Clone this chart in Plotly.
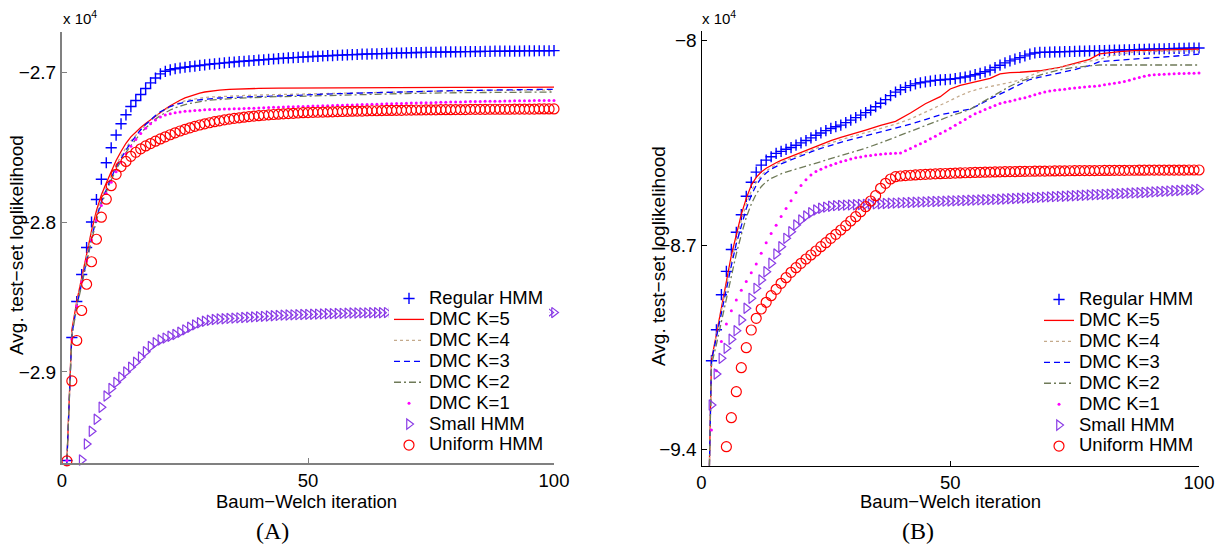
import plotly.graph_objects as go

# ---------------- data ----------------
ITER = list(range(1, 101))

# Panel A (values are log-likelihoods; axis shows them in units of 1e4)
REG_A = [-29590, -28770, -28530, -28350, -28170, -28000, -27850, -27715, -27605, -27505,
         -27420, -27345, -27285, -27230, -27190, -27150, -27110, -27072, -27040, -27012,
         -26995, -26985, -26978, -26973, -26968, -26964, -26960, -26956, -26952, -26948,
         -26945, -26942, -26939, -26936, -26933, -26930, -26928, -26925, -26923, -26920,
         -26918, -26915, -26913, -26910, -26908, -26906, -26904, -26902, -26900, -26898,
         -26896, -26895, -26893, -26891, -26890, -26888, -26887, -26885, -26884, -26883,
         -26881, -26880, -26879, -26878, -26877, -26876, -26875, -26874, -26873, -26872,
         -26871, -26870, -26870, -26869, -26868, -26868, -26867, -26866, -26866, -26865,
         -26865, -26864, -26864, -26863, -26863, -26862, -26862, -26861, -26861, -26861,
         -26860, -26860, -26860, -26859, -26859, -26859, -26858, -26858, -26858, -26857]

UNI_A = [-29593, -29060, -28790, -28590, -28415, -28265, -28115, -27968, -27848, -27758,
         -27682, -27630, -27596, -27562, -27535, -27512, -27493, -27477, -27461, -27446,
         -27432, -27418, -27405, -27393, -27382, -27372, -27362, -27353, -27345, -27338,
         -27331, -27325, -27319, -27314, -27309, -27305, -27301, -27297, -27294, -27291,
         -27288, -27285, -27283, -27281, -27279, -27277, -27275, -27273, -27271, -27270,
         -27269, -27268, -27267, -27266, -27265, -27264, -27263, -27262, -27261, -27260,
         -27260, -27259, -27258, -27258, -27257, -27256, -27256, -27255, -27255, -27254,
         -27254, -27253, -27253, -27252, -27252, -27252, -27251, -27251, -27251, -27250,
         -27250, -27250, -27249, -27249, -27249, -27249, -27248, -27248, -27248, -27248,
         -27248, -27247, -27247, -27247, -27247, -27247, -27246, -27246, -27246, -27246]

SMALL_A = [None, None, None, -29587, -29480, -29395, -29315, -29235, -29160, -29110,
           -29070, -29035, -29000, -28968, -28935, -28900, -28865, -28830, -28805, -28787,
           -28774, -28762, -28750, -28735, -28719, -28702, -28686, -28672, -28662, -28655,
           -28650, -28647, -28645, -28643, -28641, -28639, -28637, -28635, -28633, -28631,
           -28629, -28627, -28625, -28623, -28621, -28620, -28619, -28618, -28617, -28616,
           -28615, -28614, -28613, -28612, -28611, -28610, -28609, -28608, -28607, -28607,
           -28606, -28606, -28605, -28605, -28605, -28604, -28604, -28604, -28604, -28604,
           -28604, -28604, -28604, -28604, -28604, -28604, -28604, -28604, -28604, -28604,
           -28604, -28604, -28604, -28604, -28604, -28604, -28604, -28604, -28604, -28604,
           -28604, -28604, -28604, -28604, -28604, -28604, -28604, -28604, -28604, -28604]

K1_A = [-29590, -28780, -28560, -28400, -28260, -28120, -27990, -27890, -27810, -27735,
        -27665, -27600, -27545, -27495, -27450, -27410, -27375, -27345, -27320, -27300,
        -27287, -27278, -27271, -27266, -27262, -27259, -27256, -27254, -27252, -27250,
        -27249, -27248, -27247, -27246, -27245, -27244, -27243, -27242, -27241, -27240,
        -27238, -27237, -27235, -27234, -27233, -27232, -27231, -27230, -27229, -27228,
        -27227, -27226, -27225, -27224, -27223, -27222, -27221, -27220, -27219, -27218,
        -27217, -27216, -27215, -27214, -27213, -27212, -27211, -27210, -27209, -27208,
        -27207, -27206, -27205, -27204, -27204, -27203, -27202, -27201, -27200, -27200,
        -27199, -27198, -27197, -27197, -27196, -27195, -27195, -27194, -27194, -27193,
        -27193, -27192, -27192, -27191, -27191, -27190, -27190, -27190, -27189, -27189]

# line series of panel A, given at these iterations
X_LA = list(range(1, 31)) + [32, 34, 36, 38, 40, 44, 48, 55, 60, 70, 80, 90, 100]
K5_A = [-29590, -28720, -28530, -28370, -28230, -28060, -27925, -27820, -27740, -27660,
        -27590, -27530, -27475, -27432, -27398, -27370, -27343, -27318, -27295, -27270,
        -27247, -27225, -27205, -27188, -27172, -27160, -27150, -27140, -27133, -27127,
        -27120, -27116, -27113, -27111, -27109, -27107, -27106, -27105, -27104, -27103,
        -27102, -27102, -27101]
K4_A = [-29590, -28730, -28540, -28380, -28240, -28080, -27950, -27845, -27765, -27690,
        -27620, -27560, -27505, -27460, -27420, -27385, -27352, -27323, -27297, -27272,
        -27250, -27232, -27216, -27203, -27192, -27184, -27178, -27173, -27170, -27167,
        -27163, -27160, -27157, -27155, -27153, -27150, -27147, -27140, -27136, -27130,
        -27125, -27122, -27120]
K3_A = [-29590, -28750, -28560, -28400, -28260, -28110, -27975, -27865, -27780, -27705,
        -27635, -27575, -27520, -27470, -27425, -27385, -27350, -27318, -27290, -27265,
        -27245, -27230, -27218, -27208, -27200, -27193, -27188, -27184, -27180, -27177,
        -27173, -27170, -27168, -27166, -27165, -27163, -27155, -27145, -27140, -27130,
        -27124, -27119, -27115]
K2_A = [-29590, -28760, -28570, -28410, -28270, -28125, -27990, -27880, -27795, -27720,
        -27650, -27590, -27537, -27490, -27447, -27408, -27373, -27342, -27314, -27290,
        -27270, -27253, -27239, -27227, -27217, -27209, -27202, -27197, -27192, -27188,
        -27182, -27178, -27174, -27171, -27168, -27164, -27162, -27155, -27150, -27143,
        -27138, -27135, -27133]

# Panel B
REG_B = [None, -90960, -89900, -88700, -87900, -87150, -86560, -85960, -85330, -84850,
         -84500, -84260, -84090, -83975, -83860, -83790, -83720, -83660, -83580, -83500,
         -83420, -83330, -83240, -83160, -83080, -83005, -82945, -82890, -82805, -82720,
         -82635, -82550, -82465, -82380, -82260, -82140, -82020, -81880, -81760, -81680,
         -81600, -81540, -81480, -81440, -81410, -81385, -81360, -81345, -81330, -81320,
         -81300, -81275, -81245, -81210, -81165, -81120, -81065, -81005, -80920, -80840,
         -80760, -80690, -80630, -80580, -80520, -80460, -80420, -80400, -80395, -80390,
         -80385, -80380, -80375, -80370, -80365, -80360, -80355, -80350, -80345, -80340,
         -80335, -80330, -80325, -80320, -80315, -80310, -80305, -80300, -80295, -80290,
         -80285, -80280, -80276, -80272, -80268, -80264, -80260, -80256, -80252, -80250]

UNI_B = [None, None, None, None, -93906, -92912, -92022, -91200, -90515, -89909,
         -89508, -89189, -88960, -88734, -88515, -88309, -88117, -87932, -87775, -87624,
         -87477, -87340, -87203, -87056, -86919, -86768, -86631, -86484, -86336, -86175,
         -86028, -85857, -85686, -85490, -85309, -85055, -84884, -84737, -84658, -84634,
         -84620, -84608, -84597, -84587, -84578, -84570, -84562, -84555, -84548, -84541,
         -84535, -84529, -84523, -84518, -84513, -84508, -84503, -84499, -84495, -84491,
         -84487, -84484, -84481, -84478, -84475, -84472, -84470, -84467, -84465, -84463,
         -84461, -84459, -84457, -84455, -84453, -84451, -84450, -84448, -84447, -84445,
         -84444, -84443, -84441, -84440, -84439, -84438, -84437, -84436, -84435, -84434,
         -84433, -84433, -84432, -84431, -84431, -84430, -84430, -84429, -84429, -84428]

SMALL_B = [None, -92477, -91415, -90878, -90536, -90227, -89932, -89566, -89165, -88823,
           -88481, -88196, -87912, -87624, -87306, -87056, -86768, -86542, -86313, -86141,
           -86004, -85891, -85798, -85740, -85700, -85670, -85650, -85640, -85632, -85625,
           -85618, -85611, -85604, -85597, -85590, -85583, -85576, -85569, -85562, -85555,
           -85548, -85541, -85534, -85527, -85520, -85514, -85508, -85502, -85496, -85490,
           -85484, -85478, -85472, -85466, -85460, -85454, -85448, -85442, -85436, -85430,
           -85422, -85414, -85406, -85398, -85390, -85382, -85374, -85366, -85358, -85350,
           -85342, -85334, -85326, -85318, -85310, -85302, -85294, -85286, -85278, -85270,
           -85262, -85254, -85246, -85238, -85230, -85222, -85214, -85206, -85198, -85190,
           -85180, -85170, -85160, -85150, -85140, -85130, -85120, -85110, -85100, -85090]

K1_B = [None, -93330, -91300, -90300, -89700, -89250, -88880, -88550, -88250, -87950,
        -87650, -87280, -86920, -86600, -86320, -86020, -85750, -85480, -85200, -84960,
        -84760, -84600, -84480, -84400, -84330, -84270, -84210, -84150, -84100, -84050,
        -84010, -83980, -83950, -83930, -83910, -83890, -83875, -83865, -83855, -83845,
        -83770, -83690, -83610, -83530, -83450, -83360, -83270, -83180, -83090, -83000,
        -82900, -82800, -82700, -82600, -82500, -82430, -82360, -82290, -82220, -82150,
        -82110, -82070, -82030, -81990, -81950, -81900, -81850, -81800, -81760, -81720,
        -81700, -81680, -81660, -81640, -81620, -81604, -81588, -81572, -81556, -81540,
        -81512, -81484, -81456, -81428, -81400, -81353, -81306, -81260, -81220, -81180,
        -81170, -81160, -81150, -81140, -81130, -81126, -81122, -81118, -81114, -81110]

X_LB = list(range(1, 21)) + [22, 24, 26, 28, 30, 33, 36, 39, 42, 45, 48, 50, 52, 54, 56, 58,
                              60, 62, 64, 66, 68, 70, 72, 75, 78, 80, 82, 84, 87, 90, 94, 100]
K5_B = [-99700, -90940, -90050, -89100, -88250, -87350, -86650, -85950, -85400, -84950,
        -84680, -84500, -84370, -84270, -84180, -84100, -84030, -83965, -83900, -83830,
        -83700, -83560, -83420, -83310, -83220, -83060, -82900, -82760, -82476, -82160,
        -81918, -81654, -81534, -81449, -81360, -81288, -81140, -81095, -81080, -81065,
        -81030, -80975, -80915, -80775, -80637, -80450, -80400, -80375, -80342, -80325,
        -80310, -80290]
K4_B = [-99700, -90950, -90100, -89200, -88400, -87550, -86850, -86150, -85600, -85150,
        -84850, -84620, -84460, -84340, -84240, -84160, -84090, -84020, -83950, -83880,
        -83750, -83620, -83500, -83390, -83290, -83150, -83010, -82860, -82680, -82450,
        -82230, -82050, -81880, -81740, -81640, -81570, -81517, -81430, -81346, -81200,
        -81062, -80990, -80911, -80810, -80700, -80637, -80540, -80460, -80390, -80370,
        -80355, -80342]
K3_B = [-99700, -90970, -90150, -89300, -88500, -87700, -86950, -86300, -85750, -85300,
        -84950, -84700, -84530, -84400, -84300, -84220, -84150, -84080, -84010, -83940,
        -83810, -83690, -83580, -83480, -83390, -83260, -83130, -83000, -82860, -82700,
        -82540, -82470, -82410, -82340, -82180, -81990, -81830, -81660, -81480, -81330,
        -81250, -81180, -81100, -80990, -80850, -80720, -80690, -80670, -80640, -80600,
        -80545, -80460]
K2_B = [-99700, -91100, -90400, -89600, -88800, -88000, -87300, -86650, -86050, -85600,
        -85250, -85000, -84830, -84720, -84630, -84560, -84500, -84450, -84400, -84350,
        -84250, -84150, -84050, -83950, -83850, -83680, -83500, -83300, -83120, -82920,
        -82720, -82580, -82470, -82350, -82150, -81950, -81750, -81560, -81400, -81280,
        -81180, -81080, -81000, -80911, -80850, -80832, -80832, -80832, -80832, -80832,
        -80832, -80832]

NAMES = ["Regular HMM", "DMC K=5", "DMC K=4", "DMC K=3", "DMC K=2", "DMC K=1",
         "Small HMM", "Uniform HMM"]
X_TICKS = [0, 50, 100]
YTICK_A = [-29000, -28000, -27000]
YTICK_A_TXT = ["\u22122.9", "\u22122.8", "\u22122.7"]
YTICK_B = [-94000, -87000, -80000]
YTICK_B_TXT = ["\u22129.4", "\u22128.7", "\u22128"]
XTITLE = "Baum\u2212Welch iteration"
YTITLE = "Avg. test\u2212set loglikelihood"

# ---------------- style ----------------
BLUE = "#0000ff"
RED = "#ff0000"
TAN = "#c4aa8c"
OLIVE = "#6f7a58"
MAG = "#ff00ff"
PURP = "#8a3be6"
FONT = "Liberation Sans, Arial, Helvetica, sans-serif"
W, H = 1218, 546


def nm(s):
    return '<span style="font-size:18.5px">' + s + "</span>"


fig = go.Figure()


def add_panel(xa, ya, leg, reg, k5, k4, k3, k2, k1, small, uni, xl):
    common = dict(xaxis=xa, yaxis=ya, legend=leg)
    fig.add_trace(go.Scatter(x=ITER, y=reg, mode="markers", name=nm(NAMES[0]), cliponaxis=False,
                             marker=dict(symbol="cross-thin-open", size=8, color=BLUE,
                                         line=dict(color=BLUE, width=1.4)), **common))
    fig.add_trace(go.Scatter(x=xl, y=k5, mode="lines", name=nm(NAMES[1]),
                             line=dict(color=RED, width=1.3), **common))
    fig.add_trace(go.Scatter(x=xl, y=k4, mode="lines", name=nm(NAMES[2]),
                             line=dict(color=TAN, width=1.3, dash="dot"), **common))
    fig.add_trace(go.Scatter(x=xl, y=k3, mode="lines", name=nm(NAMES[3]),
                             line=dict(color=BLUE, width=1.3, dash="6px,4px"), **common))
    fig.add_trace(go.Scatter(x=xl, y=k2, mode="lines", name=nm(NAMES[4]),
                             line=dict(color=OLIVE, width=1.3, dash="7px,3px,2px,3px"), **common))
    fig.add_trace(go.Scatter(x=ITER, y=k1, mode="markers", name=nm(NAMES[5]), cliponaxis=False,
                             marker=dict(symbol="circle", size=3, color=MAG), **common))
    fig.add_trace(go.Scatter(x=ITER, y=small, mode="markers", name=nm(NAMES[6]), cliponaxis=False,
                             marker=dict(symbol="triangle-right-open", size=9, color=PURP,
                                         line=dict(color=PURP, width=1.2)), **common))
    fig.add_trace(go.Scatter(x=ITER, y=uni, mode="markers", name=nm(NAMES[7]), cliponaxis=False,
                             marker=dict(symbol="circle-open", size=10, color=RED,
                                         line=dict(color=RED, width=1.2)), **common))


add_panel("x", "y", "legend", REG_A, K5_A, K4_A, K3_A, K2_A, K1_A, SMALL_A, UNI_A, X_LA)
add_panel("x2", "y2", "legend2", REG_B, K5_B, K4_B, K3_B, K2_B, K1_B, SMALL_B, UNI_B, X_LB)


def xax(dom, col, lw):
    return dict(domain=dom, range=[0, 100], tickvals=X_TICKS, ticks="inside", ticklen=5,
                tickcolor=col, tickwidth=1, showline=True, linecolor=col, linewidth=lw,
                showgrid=False, zeroline=False, tickfont=dict(family=FONT, size=18.5, color="black"),
                ticklabelstandoff=0, automargin=False)


def yax(dom, rng, tv, tt, col, lw, anchor):
    return dict(domain=dom, range=rng, tickvals=tv, ticktext=tt, ticks="inside", ticklen=5,
                tickcolor=col, tickwidth=1, showline=True, linecolor=col, linewidth=lw,
                showgrid=False, zeroline=False, tickfont=dict(family=FONT, size=19, color="black"),
                anchor=anchor, automargin=False)


xa_dom = [62 / W, 554 / W]
xb_dom = [701.5 / W, 1199 / W]
ya_dom = [(H - 463) / H, (H - 32) / H]
yb_dom = [(H - 465.7) / H, (H - 31) / H]

fig.update_layout(
    width=W, height=H, autosize=False,
    margin=dict(l=0, r=0, t=0, b=0, pad=0, autoexpand=False),
    paper_bgcolor="white", plot_bgcolor="white",
    font=dict(family=FONT, color="black"),
    xaxis=dict(xax(xa_dom, "#808080", 2), anchor="y"),
    yaxis=yax(ya_dom, [-29607, -26733], YTICK_A, YTICK_A_TXT, "#808080", 2, "x"),
    xaxis2=dict(xax(xb_dom, "black", 1), anchor="y2"),
    yaxis2=yax(yb_dom, [-94556, -79668], YTICK_B, YTICK_B_TXT, "black", 1, "x2"),
    legend=dict(x=389 / W, y=1 - 283 / H, xanchor="left", yanchor="top", bgcolor="white",
                borderwidth=0, font=dict(family=FONT, size=13.8, color="black"),
                itemwidth=30, tracegroupgap=0),
    legend2=dict(x=1039 / W, y=1 - 284 / H, xanchor="left", yanchor="top", bgcolor="white",
                 borderwidth=0, font=dict(family=FONT, size=13.8, color="black"),
                 itemwidth=30, tracegroupgap=0),
    showlegend=True,
)

ann = []
ann.append(dict(text=XTITLE, x=306 / W, y=1 - 501 / H, xref="paper", yref="paper",
                showarrow=False, font=dict(family=FONT, size=18.5), xanchor="center", yanchor="middle"))
ann.append(dict(text=XTITLE, x=950 / W, y=1 - 501 / H, xref="paper", yref="paper",
                showarrow=False, font=dict(family=FONT, size=18.5), xanchor="center", yanchor="middle"))
ann.append(dict(text=YTITLE, x=17 / W, y=1 - 245 / H, xref="paper", yref="paper", textangle=-90,
                showarrow=False, font=dict(family=FONT, size=19), xanchor="center", yanchor="middle"))
ann.append(dict(text=YTITLE, x=658 / W, y=1 - 256 / H, xref="paper", yref="paper", textangle=-90,
                showarrow=False, font=dict(family=FONT, size=19), xanchor="center", yanchor="middle"))
ann.append(dict(text="x 10<sup>4</sup>", x=61 / W, y=1 - 29 / H, xref="paper", yref="paper",
                showarrow=False, font=dict(family=FONT, size=15), xanchor="left", yanchor="bottom"))
ann.append(dict(text="x 10<sup>4</sup>", x=700 / W, y=1 - 29 / H, xref="paper", yref="paper",
                showarrow=False, font=dict(family=FONT, size=15), xanchor="left", yanchor="bottom"))
ann.append(dict(text="(A)", x=272 / W, y=1 - 531 / H, xref="paper", yref="paper",
                showarrow=False, font=dict(family="Liberation Serif, DejaVu Serif, serif", size=24),
                xanchor="center", yanchor="middle"))
ann.append(dict(text="(B)", x=918 / W, y=1 - 531 / H, xref="paper", yref="paper",
                showarrow=False, font=dict(family="Liberation Serif, DejaVu Serif, serif", size=24),
                xanchor="center", yanchor="middle"))
fig.update_layout(annotations=ann)

POST = ("document.documentElement.style.overflow='hidden';"
        "document.body.style.margin='0px';document.body.style.overflow='hidden';")

fig.write_html("out.html", config={"displayModeBar": False}, post_script=POST)
